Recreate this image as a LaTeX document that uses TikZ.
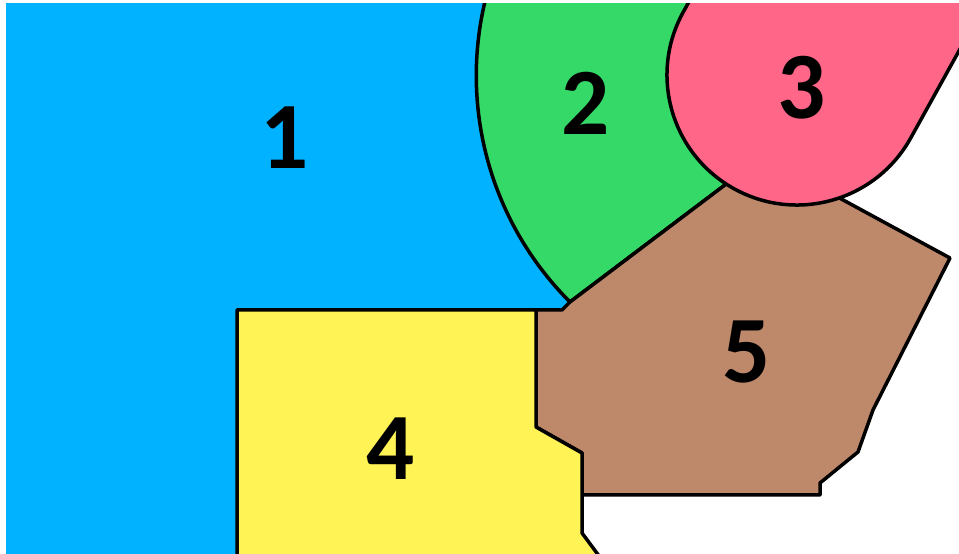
\documentclass[tikz,border=0pt]{standalone}
\usepackage{fontspec}
\setmainfont{Carlito}
\definecolor{blu}{HTML}{00B2FF}
\definecolor{grn}{HTML}{35D968}
\definecolor{pnk}{HTML}{FF6688}
\definecolor{brn}{HTML}{BE886A}
\definecolor{ylw}{HTML}{FFF355}
\begin{document}
\begin{tikzpicture}[x=1pt, y=1pt,
    region/.style={draw=black, line width=3.5pt, line join=round},
    num/.style={font=\fontsize{95}{95}\selectfont\bfseries, inner sep=0pt}]
  \useasboundingbox (0,0) rectangle (959,554);
  \clip (6,0) rectangle (959,550);
  \coordinate (c) at (797,479);
  \coordinate (tip) at (570,252);
  \path (c) ++(237:130) coordinate (j);
  \path (c) ++(289:130) coordinate (k);
  % region 1
  \fill[blu] (0,-10) -- (237,-10) -- (237,244) -- (562,244) -- (tip)
    -- (c) -- (797,620) -- (0,620) -- cycle;
  % region 2
  \filldraw[region, fill=grn] (tip) arc[start angle=225, end angle=150, radius=320]
    -- (797,700) -- (c) -- (j) -- cycle;
  % region 5
  \filldraw[region, fill=brn] (tip) -- (j) -- (c) -- (k) -- (950,296) -- (873,144)
    -- (858,102) -- (820,71) -- (820,59) -- (582,59) -- (582,101) -- (536,127)
    -- (536,244) -- (562,244) -- cycle;
  % region 4
  \filldraw[region, fill=ylw] (237,-10) -- (237,244) -- (536,244) -- (536,127)
    -- (582,101) -- (582,21) -- (605,-10) -- cycle;
  % region 3
  \filldraw[region, fill=pnk] (c) ++(-29:130) -- ++(61:300) -- ++(151:260)
    -- ++(241:300) arc[start angle=151, end angle=331, radius=130] -- cycle;
  \node[num] (n1) at (285,416) {1};
  \node[num] (n2) at (586,451) {2};
  \node[num] (n3) at (802,466) {3};
  \node[num] (n4) at (391,105) {4};
  \node[num] (n5) at (747,202) {5};
\end{tikzpicture}
\end{document}
